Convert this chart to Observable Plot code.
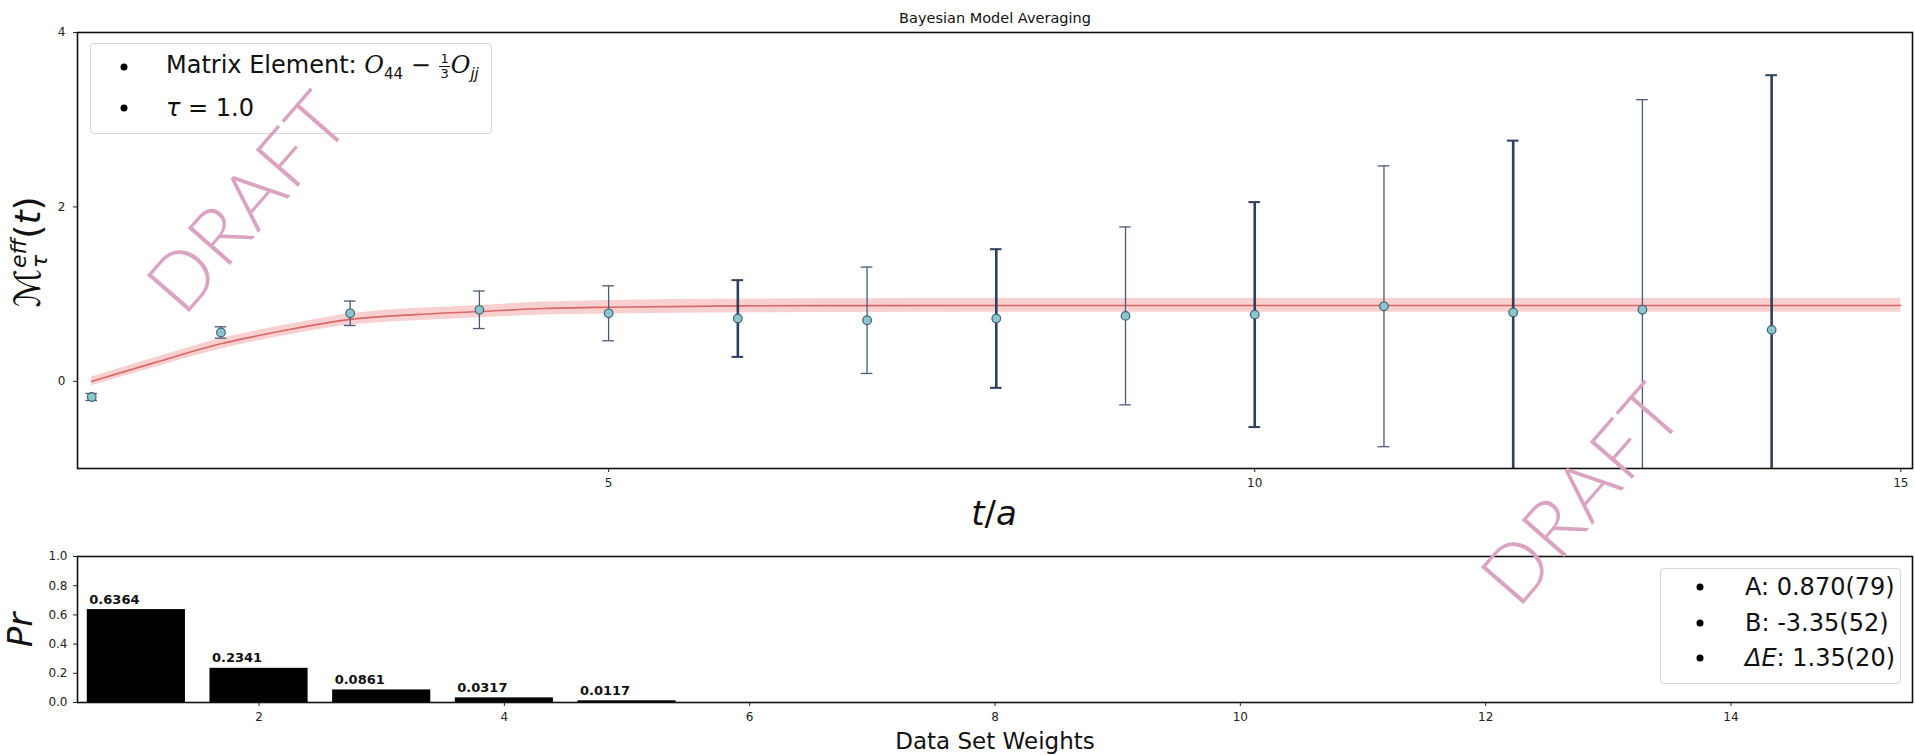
<!DOCTYPE html>
<html>
<head>
<meta charset="utf-8">
<script src="https://cdn.jsdelivr.net/npm/d3@7"></script>
<script src="https://cdn.jsdelivr.net/npm/@observablehq/plot@0.6"></script>
<style>
  body { margin: 0; background: #fff; font-family: "DejaVu Sans", sans-serif; }
  #wrap { position: relative; width: 1915px; height: 755px; overflow: hidden; background: #fff; }
  #top, #bottom { position: absolute; left: 0; }
  #top { top: 0; }
  #bottom { top: 500px; }
  .abs { position: absolute; white-space: nowrap; line-height: 1; color: #111; }
  .c { transform: translate(-50%, -50%); }
  .box { position: absolute; border: 1px solid #d6d6d6; border-radius: 4px; background: rgba(255,255,255,0.85); }
  .bul { position: absolute; width: 7px; height: 7px; border-radius: 50%; background: #000; transform: translate(-50%, -50%); }
  .row { position: absolute; white-space: nowrap; font-size: 24px; line-height: 1; transform: translateY(-50%); color: #111; }
  .frac { display: inline-block; vertical-align: middle; text-align: center; font-size: 13px; line-height: 1.05; margin: 0 1px; }
  .frac span { display: block; }
  .frac .num { border-bottom: 1px solid #111; padding: 0 1px; }
  .cal { font-family: "DejaVu Serif", serif; font-style: italic; }
  .ss { display: inline-block; vertical-align: middle; line-height: 0.95; font-size: 22px; margin-left: 1px; }
  .ss span { display: block; }
  .draft { position: absolute; font-family: Lato, "Open Sans", "DejaVu Sans", sans-serif; font-weight: 300; font-size: 79px; color: #d9a3c1; white-space: nowrap; line-height: 1; transform: translate(-50%, -50%) rotate(-49deg); letter-spacing: 2px; }
</style>
</head>
<body>
<div id="wrap">
  <div id="top"></div>
  <div id="bottom"></div>
</div>
<script>
// ---- data: effective matrix element per time slice ----
const tSlices = [1, 2, 3, 4, 5, 6, 7, 8, 9, 10, 11, 12, 13, 14];
const meffMean = [-0.18, 0.56, 0.78, 0.82, 0.78, 0.72, 0.70, 0.72, 0.75, 0.765, 0.86, 0.79, 0.82, 0.59];
const meffErr = [0.04, 0.065, 0.14, 0.215, 0.315, 0.44, 0.61, 0.795, 1.02, 1.29, 1.61, 1.97, 2.41, 2.92];

// ---- data: Bayesian model average fit band ----
const fitT = [1, 1.5, 2, 2.5, 3, 3.5, 4, 4.5, 5, 6, 7, 8, 9, 10, 11, 12, 13, 14, 15];
const fitMean = [0.00, 0.22, 0.43, 0.585, 0.71, 0.765, 0.80, 0.835, 0.85, 0.865, 0.868, 0.87, 0.87, 0.87, 0.87, 0.87, 0.87, 0.87, 0.87];
const fitErr = [0.05, 0.055, 0.06, 0.06, 0.065, 0.07, 0.07, 0.075, 0.078, 0.079, 0.079, 0.079, 0.079, 0.079, 0.079, 0.079, 0.079, 0.079, 0.079];

// ---- data: data set weights ----
const weightSets = [1, 2, 3, 4, 5];
const weightValues = [0.6364, 0.2341, 0.0861, 0.0317, 0.0117];

// ---- tick labels ----
const topXTicks = [5, 10, 15];
const topYTicks = [0, 2, 4];
const botXTicks = [2, 4, 6, 8, 10, 12, 14];
const botYTicks = [0, 0.2, 0.4, 0.6, 0.8, 1.0];

const pts = tSlices.map((t, i) => ({t, m: meffMean[i], e: meffErr[i]}));
const fit = fitT.map((t, i) => ({t, m: fitMean[i], e: fitErr[i]}));
const bars = weightSets.map((s, i) => ({s, w: weightValues[i]}));

const isThick = d => d.t >= 6 && d.t % 2 === 0;
const capHalf = 0.045;

const axisStyle = {fontFamily: "DejaVu Sans, sans-serif", fontSize: "12px", color: "#222", background: "transparent", overflow: "visible"};

const topPlot = Plot.plot({
  width: 1915, height: 500,
  marginLeft: 77, marginRight: 3, marginTop: 32, marginBottom: 32,
  style: axisStyle,
  x: {domain: [0.89, 15.09], ticks: topXTicks, tickSize: 4, tickPadding: 6, label: null, tickFormat: d => String(d)},
  y: {domain: [-1, 4], ticks: topYTicks, tickSize: 4, tickPadding: 8, label: null, tickFormat: d => String(d)},
  marks: [
    Plot.areaY(fit, {x: "t", y1: d => d.m - d.e, y2: d => d.m + d.e, curve: "monotone-x", fill: "#f4a9a9", fillOpacity: 0.55}),
    Plot.line(fit, {x: "t", y: "m", curve: "monotone-x", stroke: "#d65b5b", strokeWidth: 1.6, strokeOpacity: 0.9}),
    // thin error bars
    Plot.ruleX(pts.filter(d => !isThick(d)), {x: "t", y1: d => d.m - d.e, y2: d => d.m + d.e, stroke: "#4a5b73", strokeWidth: 1.3, clip: true}),
    Plot.ruleY(pts.filter(d => !isThick(d)), {y: d => d.m + d.e, x1: d => d.t - capHalf, x2: d => d.t + capHalf, stroke: "#4a5b73", strokeWidth: 1.3, clip: true}),
    Plot.ruleY(pts.filter(d => !isThick(d)), {y: d => d.m - d.e, x1: d => d.t - capHalf, x2: d => d.t + capHalf, stroke: "#4a5b73", strokeWidth: 1.3, clip: true}),
    // thick error bars
    Plot.ruleX(pts.filter(isThick), {x: "t", y1: d => d.m - d.e, y2: d => d.m + d.e, stroke: "#2f3f5f", strokeWidth: 2.6, clip: true}),
    Plot.ruleY(pts.filter(isThick), {y: d => d.m + d.e, x1: d => d.t - capHalf, x2: d => d.t + capHalf, stroke: "#2f3f5f", strokeWidth: 2, clip: true}),
    Plot.ruleY(pts.filter(isThick), {y: d => d.m - d.e, x1: d => d.t - capHalf, x2: d => d.t + capHalf, stroke: "#2f3f5f", strokeWidth: 2, clip: true}),
    Plot.dot(pts, {x: "t", y: "m", r: 4.3, fill: "#8cc5cd", stroke: "#3f6275", strokeWidth: 1.2}),
    Plot.frame({stroke: "#111", strokeWidth: 1.6})
  ]
});
document.getElementById("top").appendChild(topPlot);

const botPlot = Plot.plot({
  width: 1915, height: 255,
  marginLeft: 77, marginRight: 3, marginTop: 56, marginBottom: 53,
  style: axisStyle,
  x: {domain: [0.52, 15.48], ticks: botXTicks, tickSize: 4, tickPadding: 6, label: null, tickFormat: d => String(d)},
  y: {domain: [0, 1], ticks: botYTicks, tickSize: 4, tickPadding: 6, label: null, tickFormat: d => d.toFixed(1)},
  marks: [
    Plot.rectY(bars, {x1: d => d.s - 0.4, x2: d => d.s + 0.4, y1: d => 0, y2: "w", fill: "#000"}),
    Plot.text(bars, {x: d => d.s - 0.4, y: "w", text: d => d.w.toFixed(4), textAnchor: "start", dx: 2, dy: -10, fontWeight: "bold", fontSize: 13, fill: "#111"}),
    Plot.frame({stroke: "#111", strokeWidth: 1.6})
  ]
});
document.getElementById("bottom").appendChild(botPlot);

// ---- overlays: titles, axis labels, legends, watermarks ----
const wrap = document.getElementById("wrap");
function add(html, cls, style) {
  const el = document.createElement("div");
  el.className = cls;
  el.innerHTML = html;
  Object.assign(el.style, style);
  wrap.appendChild(el);
  return el;
}

add("Bayesian Model Averaging", "abs c", {left: "995px", top: "18px", fontSize: "14.5px"});
add("<i>t</i>/<i>a</i>", "abs c", {left: "994px", top: "513px", fontSize: "34px"});
add("Data Set Weights", "abs c", {left: "995px", top: "741px", fontSize: "23px"});
add("<span style='font-family:DejaVu Sans'>ℳ</span><span class='ss'><span><i>eff</i></span><span><i>τ</i></span></span>(<i>t</i>)",
    "abs", {left: "30px", top: "252px", fontSize: "36px", transform: "translate(-50%,-50%) rotate(-90deg)"});
add("<i>Pr</i>", "abs", {left: "20px", top: "630px", fontSize: "34px", transform: "translate(-50%,-50%) rotate(-90deg)"});

// legend 1
add("", "box", {left: "90px", top: "43px", width: "400px", height: "89px"});
add("", "bul", {left: "124px", top: "67px"});
add("", "bul", {left: "124px", top: "108px"});
add("Matrix Element: <span class='cal'>O</span><sub style='font-size:15px'>44</sub> − <span class='frac'><span class='num'>1</span><span>3</span></span><span class='cal'>O</span><sub style='font-size:15px'><i>jj</i></sub>",
    "row", {left: "166px", top: "67px"});
add("<i>τ</i> = 1.0", "row", {left: "166px", top: "108px"});

// legend 2
const legend2Labels = ["A: 0.870(79)", "B: -3.35(52)", "<i>ΔE</i>: 1.35(20)"];
add("", "box", {left: "1660px", top: "568px", width: "239px", height: "114px"});
const rowY = [587, 623, 658];
legend2Labels.forEach((lab, i) => {
  add("", "bul", {left: "1700px", top: rowY[i] + "px"});
  add(lab, "row", {left: "1745px", top: rowY[i] + "px"});
});

// watermarks
add("DRAFT", "draft", {left: "246px", top: "200px"});
add("DRAFT", "draft", {left: "1580px", top: "492px"});
</script>
</body>
</html>
